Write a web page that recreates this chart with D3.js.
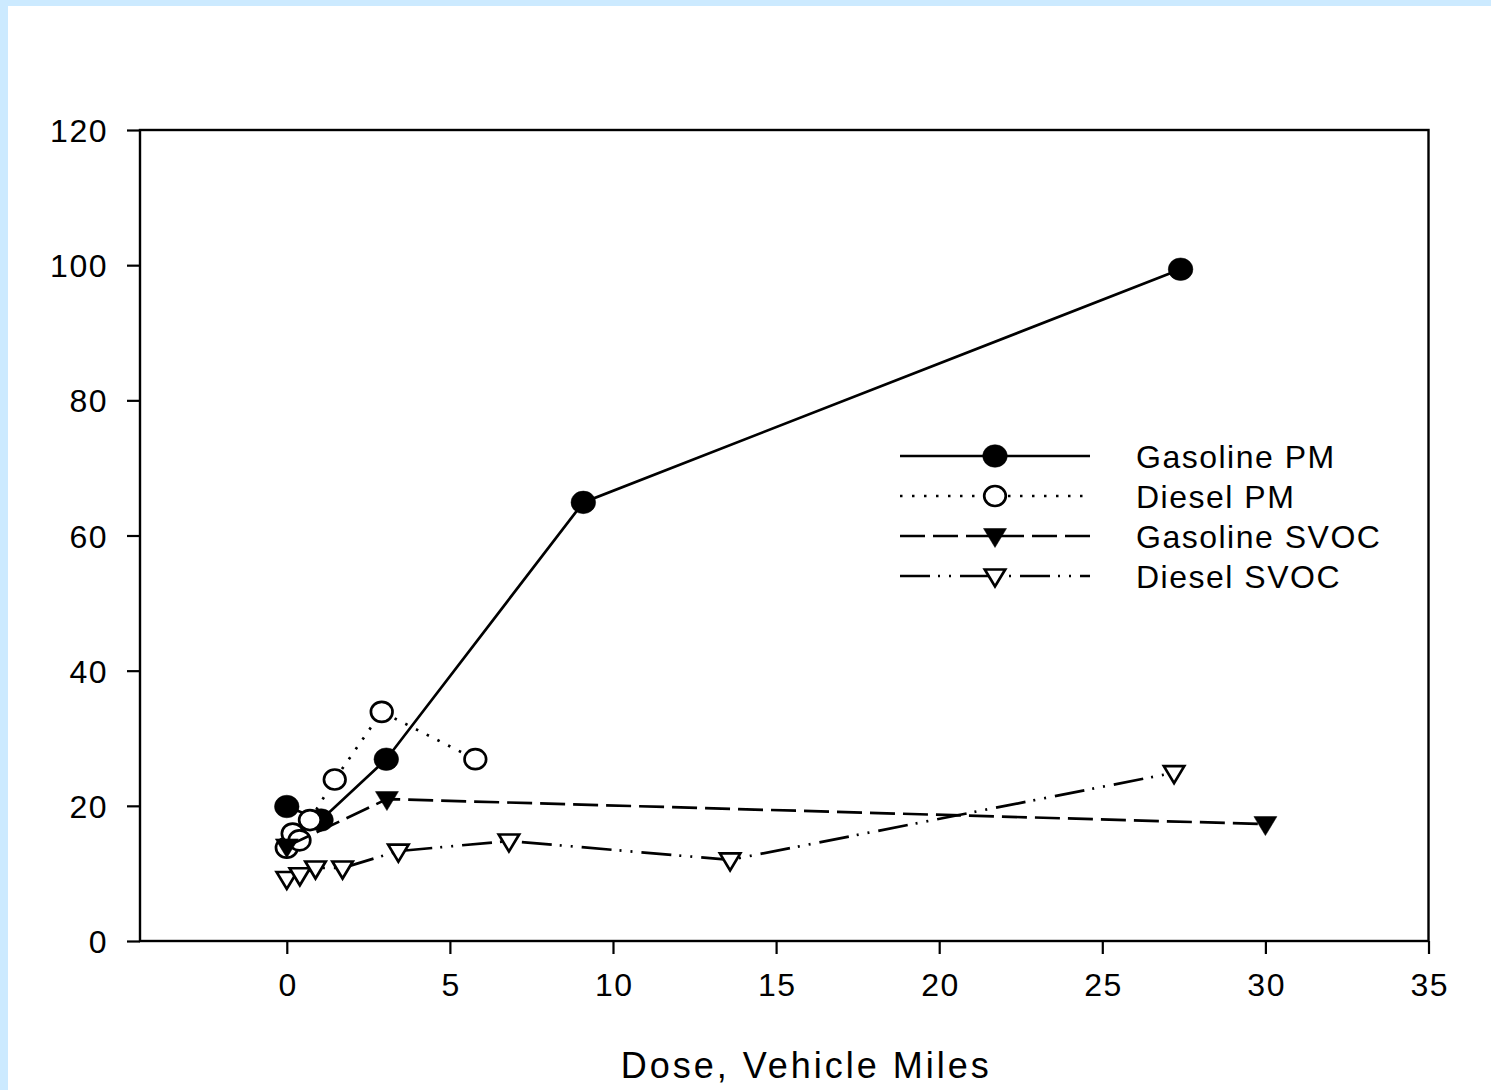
<!DOCTYPE html>
<html>
<head>
<meta charset="utf-8">
<script src="https://cdn.jsdelivr.net/npm/d3@7"></script>
<style>
  html, body { margin: 0; padding: 0; background: #cceaff; }
  svg { display: block; }
  text { font-family: "Liberation Sans", Arial, Helvetica, sans-serif; fill: #000; }
</style>
</head>
<body>
<svg id="chart" width="1491" height="1090"></svg>
<script>
// Dose (vehicle miles) and response for each exhaust sample series
const gasolinePM_x   = [0, 1.05, 3.05, 9.09, 27.4];
const gasolinePM_y   = [19.9, 17.9, 26.9, 64.9, 99.4];
const dieselPM_x     = [0, 0.18, 0.39, 0.71, 1.47, 2.91, 5.78];
const dieselPM_y     = [13.8, 15.9, 14.9, 17.9, 23.9, 33.9, 26.9];
const gasolineSVOC_x = [0, 3.07, 30.0];
const gasolineSVOC_y = [14.0, 21.0, 17.3];
const dieselSVOC_x   = [0, 0.40, 0.88, 1.71, 3.42, 6.81, 13.59, 27.2];
const dieselSVOC_y   = [9.25, 9.8, 10.8, 10.8, 13.3, 14.8, 12.0, 24.9];

const seriesNames = ["Gasoline PM", "Diesel PM", "Gasoline SVOC", "Diesel SVOC"];
const xTicks = [0, 5, 10, 15, 20, 25, 30, 35];
const yTicks = [0, 20, 40, 60, 80, 100, 120];
const xTitle = "Dose, Vehicle Miles";

const series = [
  { name: seriesNames[0], xs: gasolinePM_x,   ys: gasolinePM_y,   marker: "circle",   filled: true,  dash: null },
  { name: seriesNames[1], xs: dieselPM_x,     ys: dieselPM_y,     marker: "circle",   filled: false, dash: "2.5 9.5" },
  { name: seriesNames[2], xs: gasolineSVOC_x, ys: gasolineSVOC_y, marker: "triangle", filled: true,  dash: "25 8" },
  { name: seriesNames[3], xs: dieselSVOC_x,   ys: dieselSVOC_y,   marker: "triangle", filled: false, dash: "30 8 2 9 2 9" }
];

const svg = d3.select("#chart");

// white page area inside the light blue margin
svg.append("rect").attr("x", 8).attr("y", 6).attr("width", 1491).attr("height", 1090).attr("fill", "#fff");

const plot = { left: 140, right: 1428.5, top: 130, bottom: 941 };

const x = d3.scaleLinear().domain([-4.5, 35]).range([plot.left, plot.right]);
const y = d3.scaleLinear().domain([0, 120]).range([plot.bottom, plot.top]);

const fontSize = 32;
const letterSpacing = 1.5;

// axes
const xAxis = d3.axisBottom(x).tickValues(xTicks).tickSize(13).tickPadding(20).tickFormat(d3.format("d"));
const yAxis = d3.axisLeft(y).tickValues(yTicks).tickSize(13).tickPadding(19).tickFormat(d3.format("d"));

const gx = svg.append("g").attr("transform", `translate(0,${plot.bottom})`).call(xAxis);
const gy = svg.append("g").attr("transform", `translate(${plot.left},0)`).call(yAxis);

[gx, gy].forEach(g => {
  g.select(".domain").remove();
  g.selectAll(".tick line").attr("stroke", "#000").attr("stroke-width", 2.2);
  g.selectAll(".tick text")
    .attr("font-size", fontSize)
    .attr("letter-spacing", letterSpacing)
    .attr("font-family", "Liberation Sans, Arial, sans-serif")
    .attr("fill", "#000");
});
gx.selectAll(".tick text").attr("dx", letterSpacing / 2).attr("dy", "0.68em");
gy.selectAll(".tick text").attr("dy", "0.36em");

// frame
svg.append("rect")
  .attr("x", plot.left).attr("y", plot.top)
  .attr("width", plot.right - plot.left).attr("height", plot.bottom - plot.top)
  .attr("fill", "none").attr("stroke", "#000").attr("stroke-width", 2.4);

// x axis title
svg.append("text")
  .attr("x", (plot.left + plot.right) / 2 + 22)
  .attr("y", 1078)
  .attr("text-anchor", "middle")
  .attr("font-size", 36)
  .attr("letter-spacing", 3)
  .text(xTitle);

// marker drawing
function drawMarker(g, s, cx, cy) {
  if (s.marker === "circle") {
    g.append("ellipse")
      .attr("cx", cx).attr("cy", cy)
      .attr("rx", s.filled ? 12.3 : 10.8).attr("ry", s.filled ? 11.3 : 10)
      .attr("fill", s.filled ? "#000" : "#fff")
      .attr("stroke", "#000").attr("stroke-width", s.filled ? 0.5 : 2.7);
  } else {
    const w = s.filled ? 11.5 : 10.2, top = s.filled ? -7.5 : -6.5, bot = s.filled ? 11.5 : 10.5;
    g.append("path")
      .attr("d", `M${cx - w},${cy + top}L${cx + w},${cy + top}L${cx},${cy + bot}Z`)
      .attr("fill", s.filled ? "#000" : "#fff")
      .attr("stroke", "#000").attr("stroke-width", s.filled ? 0.5 : 2.7)
      .attr("stroke-linejoin", "miter");
  }
}

const line = d3.line().x(d => x(d[0])).y(d => y(d[1]));

series.forEach(s => {
  const pts = s.xs.map((v, i) => [v, s.ys[i]]);
  const g = svg.append("g");
  g.append("path")
    .attr("d", line(pts))
    .attr("fill", "none")
    .attr("stroke", "#000")
    .attr("stroke-width", 2.7)
    .attr("stroke-dasharray", s.dash);
  pts.forEach(p => drawMarker(g, s, x(p[0]), y(p[1])));
});

// legend
const legend = svg.append("g");
const legendRowsY = [456, 496, 536, 576];
series.forEach((s, i) => {
  const ly = legendRowsY[i];
  legend.append("line")
    .attr("x1", 900).attr("x2", 1090).attr("y1", ly).attr("y2", ly)
    .attr("stroke", "#000").attr("stroke-width", 2.7)
    .attr("stroke-dasharray", s.dash);
  drawMarker(legend, s, 995, ly);
  legend.append("text")
    .attr("x", 1136).attr("y", ly + 12)
    .attr("font-size", fontSize)
    .attr("letter-spacing", letterSpacing)
    .text(s.name);
});
</script>
</body>
</html>
